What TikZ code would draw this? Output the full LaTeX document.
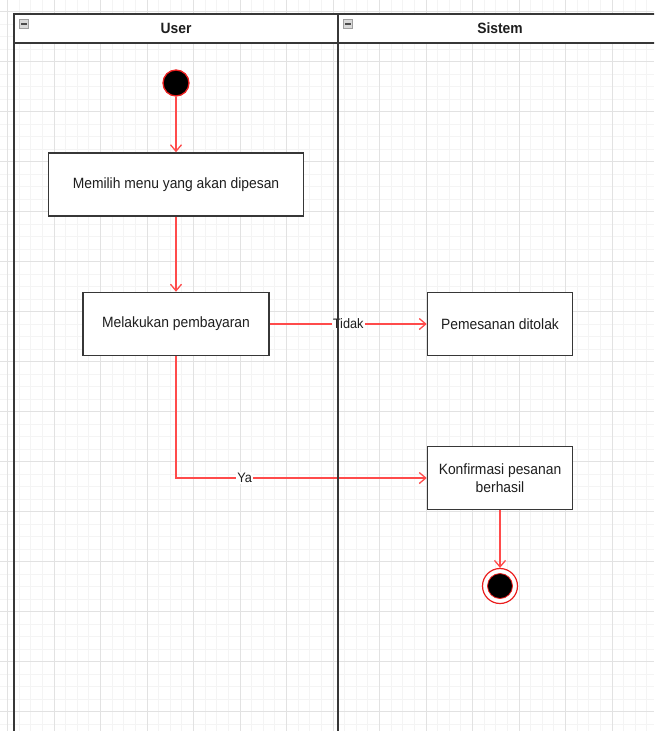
\documentclass[tikz,border=0pt]{standalone}
\usepackage{fontspec}
\setmainfont{Liberation Sans}[FakeStretch=0.93]
\usetikzlibrary{arrows.meta}
\definecolor{flowred}{RGB}{255,75,75}
\definecolor{startred}{RGB}{235,30,30}
\definecolor{boxline}{RGB}{55,55,55}
\definecolor{laneline}{RGB}{55,55,55}
\definecolor{gridmaj}{RGB}{226,226,226}
\definecolor{gridmin}{RGB}{244,244,244}
\definecolor{txt}{RGB}{30,30,30}
\begin{document}
\begin{tikzpicture}[x=1pt,y=-1pt,
  gridminor/.style={draw=gridmin, line width=0.8pt},
  gridmajor/.style={draw=gridmaj, line width=1pt},
  actbox/.style={draw=boxline, fill=white, line width=1.5pt, inner sep=2pt,
    text=txt, font=\fontsize{14.9}{18}\selectfont},
  startnode/.style={circle, fill=black, draw=startred, line width=1.3pt, minimum size=26pt, inner sep=0pt},
  endouter/.style={circle, fill=white, draw=startred, line width=1.2pt, minimum size=35pt, inner sep=0pt},
  endinner/.style={circle, fill=black, draw=startred, line width=0.8pt, minimum size=25pt, inner sep=0pt},
  flow/.style={draw=flowred, line width=1.3pt, -{Straight Barb[length=6.5pt,width=11pt]}},
  lbl/.style={fill=white, inner sep=1pt, text=txt, font=\fontsize{13.7}{16}\selectfont},
  lane/.style={draw=laneline, line width=1.6pt},
  hdr/.style={text=txt, font=\fontsize{14.9}{18}\selectfont\bfseries},
  icon/.style={draw=gray!75, fill=gray!30, minimum size=9pt, inner sep=0pt, line width=0.6pt}
]
\useasboundingbox (0,0) rectangle (654,731);
\clip (0,0) rectangle (654,731);
\fill[white] (0,0) rectangle (654,731);
% grid
\foreach \i in {0,...,56} \draw[gridminor] ({7.5+11.625*\i},0) -- ++(0,731);
\foreach \i in {0,...,58} \draw[gridminor] (0,{11.5+12.5*\i}) -- ++(654,0);
\foreach \i in {0,...,14} \draw[gridmajor] ({7.5+46.5*\i},0) -- ++(0,731);
\foreach \i in {0,...,14} \draw[gridmajor] (0,{11.5+50*\i}) -- ++(654,0);
% header background
\fill[white] (14,14) rectangle (660,43);
% nodes
\node[startnode] (start) at (176,83) {};
\node[actbox, minimum width=255pt, minimum height=63pt] (menu) at (176,184.5) {Memilih menu yang akan dipesan};
\node[actbox, minimum width=186pt, minimum height=63pt] (bayar) at (176,324) {Melakukan pembayaran};
\node[actbox, minimum width=145pt, minimum height=63pt] (tolak) at (500,324) {Pemesanan ditolak};
\node[actbox, minimum width=145pt, minimum height=63pt, align=center] (konf) at (500,478) {Konfirmasi pesanan\\berhasil};
\node[endouter] (end) at (500,586) {};
\node[endinner] (endin) at (end.center) {};
% connectors
\draw[flow] (start.south) -- (menu.north);
\draw[flow] (menu.south) -- (bayar.north);
\draw[flow] (bayar.east) -- node[lbl] (ltidak) {Tidak} (tolak.west);
\draw[flow] (bayar.south) |- node[lbl, pos=0.637] (lya) {Ya} (konf.west);
\draw[flow] (konf.south) -- (end.north);
% swimlanes
\draw[lane] (14,731) -- (14,14) -- (660,14);
\draw[lane] (14,43) -- (660,43);
\draw[lane] (338,14) -- (338,731);
\node[hdr] (huser) at (176,28) {User};
\node[hdr] (hsys) at (500,28) {Sistem};
\node[icon] (ic1) at (24,24) {};
\node[icon] (ic2) at (348,24) {};
\draw[black!70, line width=1.2pt] ([xshift=-3pt]ic1.center) -- ([xshift=3pt]ic1.center);
\draw[black!70, line width=1.2pt] ([xshift=-3pt]ic2.center) -- ([xshift=3pt]ic2.center);
\end{tikzpicture}
\end{document}
